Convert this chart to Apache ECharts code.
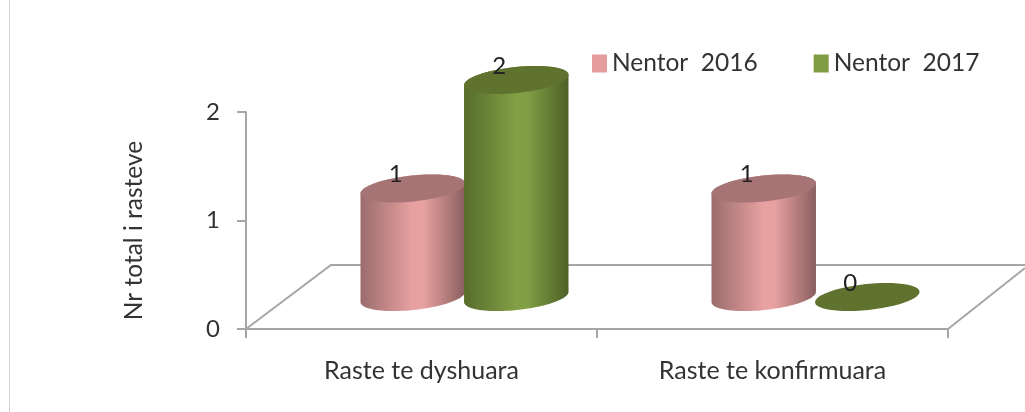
<!DOCTYPE html>
<html>
<head>
<meta charset="utf-8">
<style>
  html, body { margin: 0; padding: 0; background: #fff; }
  #chart { width: 1025px; height: 412px; }
</style>
<script src="https://cdn.jsdelivr.net/npm/echarts@6/dist/echarts.min.js"></script>
</head>
<body>
<div id="chart"></div>
<script>
const categories = ['Raste te dyshuara', 'Raste te konfirmuara'];
const yTicks = [0, 1, 2];
const nentor2016 = [1, 1];
const nentor2017 = [2, 0];
const seriesNames = ['Nentor  2016', 'Nentor  2017'];

const FONT = 'Lato';
const TILT = 6 * Math.PI / 180;
const RX = 52.5;
const RY = 13;
const DEPTH_X = 43;
const DEPTH_Y = 32;

// point on the tilted ellipse, t in radians
function ellipsePoint(cx, cy, t) {
    const px = RX * Math.cos(t);
    const py = RY * Math.sin(t);
    return [
        cx + px * Math.cos(TILT) + py * Math.sin(TILT),
        cy - px * Math.sin(TILT) + py * Math.cos(TILT)
    ];
}

function ellipsePoints(cx, cy, from, to) {
    const pts = [];
    for (let i = 0; i <= 48; i++) {
        pts.push(ellipsePoint(cx, cy, from + (to - from) * i / 48));
    }
    return pts;
}

function cylinderItem(colors, side) {
    return function (params, api) {
        const value = api.value(1);
        const base = api.coord([api.value(0), 0]);
        const top = api.coord([api.value(0), value]);
        const band = api.size([1, 0])[0];
        const cx = base[0] + DEPTH_X + side * band * 0.1475;
        const cyBase = base[1] - DEPTH_Y;
        const cyTop = top[1] - DEPTH_Y;
        // parameter where the ellipse reaches its right side
        const tEdge = Math.atan2(RY * Math.sin(TILT), RX * Math.cos(TILT));
        const children = [];
        if (value > 0) {
            const outline = ellipsePoints(cx, cyBase, tEdge, tEdge + Math.PI)
                .concat(ellipsePoints(cx, cyTop, tEdge + Math.PI, tEdge + 2 * Math.PI));
            children.push({
                type: 'polygon',
                shape: { points: outline },
                style: {
                    fill: new echarts.graphic.LinearGradient(0, 0, 1, 0, [
                        { offset: 0, color: colors.left },
                        { offset: 0.5, color: colors.mid },
                        { offset: 0.6, color: colors.mid },
                        { offset: 1, color: colors.right }
                    ])
                }
            });
        }
        children.push({
            type: 'polygon',
            shape: { points: ellipsePoints(cx, cyTop, 0, 2 * Math.PI) },
            style: { fill: colors.top }
        });
        children.push({
            type: 'text',
            style: {
                text: String(value),
                x: cx - 17,
                y: cyTop - 14,
                align: 'center',
                verticalAlign: 'middle',
                font: '24px ' + FONT,
                fill: '#222'
            }
        });
        return { type: 'group', children: children };
    };
}

// floor of the 3D box, built from the plot area
function floorItem(params) {
    const c = params.coordSys;
    const bottom = c.y + c.height;
    return {
        type: 'polyline',
        shape: {
            points: [[c.x, bottom], [c.x + 85, bottom - 64], [1025, bottom - 64]]
        },
        style: { stroke: '#a6a6a6', lineWidth: 2, fill: null },
        silent: true
    };
}

function floorEdgeItem(params) {
    const c = params.coordSys;
    const bottom = c.y + c.height;
    return {
        type: 'line',
        shape: { x1: c.x + c.width, y1: bottom, x2: 1025, y2: bottom - 61 },
        style: { stroke: '#a6a6a6', lineWidth: 2 },
        silent: true
    };
}

const chart = echarts.init(document.getElementById('chart'));

chart.setOption({
    animation: false,
    backgroundColor: '#fff',
    textStyle: { fontFamily: FONT },
    graphic: [{
        type: 'line',
        shape: { x1: 9.5, y1: 0, x2: 9.5, y2: 412 },
        style: { stroke: '#d0d0d0', lineWidth: 1 }
    }],
    legend: {
        data: seriesNames,
        left: 587,
        top: 46,
        icon: 'rect',
        itemWidth: 15,
        itemHeight: 18,
        itemGap: 56,
        textStyle: { fontFamily: FONT, fontSize: 24.5, color: '#333' },
        selectedMode: false
    },
    grid: { left: 246, right: 77, top: 112, bottom: 83 },
    xAxis: {
        type: 'category',
        data: categories,
        axisLine: { lineStyle: { color: '#a6a6a6', width: 2 } },
        axisTick: { show: true, length: 9, lineStyle: { color: '#a6a6a6', width: 2 } },
        axisLabel: { fontFamily: FONT, fontSize: 25, color: '#333', margin: 29 }
    },
    yAxis: {
        type: 'value',
        min: yTicks[0],
        max: yTicks[yTicks.length - 1],
        interval: 1,
        name: 'Nr total i rasteve',
        nameLocation: 'middle',
        nameRotate: 90,
        nameGap: 99,
        nameTextStyle: { fontFamily: FONT, fontSize: 24.5, color: '#333', padding: [0, 20, 0, 0] },
        axisLine: { show: true, lineStyle: { color: '#a6a6a6', width: 2 } },
        axisTick: { show: true, length: 9, lineStyle: { color: '#a6a6a6', width: 2 } },
        axisLabel: { fontFamily: FONT, fontSize: 24, color: '#333', margin: 26 },
        splitLine: { show: false }
    },
    series: [
        {
            type: 'custom',
            name: 'floor',
            coordinateSystem: 'cartesian2d',
            clip: false,
            silent: true,
            data: [[0, 0]],
            renderItem: floorItem,
            z: 1
        },
        {
            type: 'custom',
            name: 'floorEdge',
            coordinateSystem: 'cartesian2d',
            clip: false,
            silent: true,
            data: [[0, 0]],
            renderItem: floorEdgeItem,
            z: 1
        },
        {
            type: 'custom',
            name: seriesNames[0],
            coordinateSystem: 'cartesian2d',
            clip: false,
            itemStyle: { color: '#e59c9c' },
            data: nentor2016.map((v, i) => [i, v]),
            encode: { x: 0, y: 1 },
            renderItem: cylinderItem({ left: '#9a6c6c', mid: '#e8a1a1', right: '#8a5f5f', top: '#a67474' }, -1),
            z: 2
        },
        {
            type: 'custom',
            name: seriesNames[1],
            coordinateSystem: 'cartesian2d',
            clip: false,
            itemStyle: { color: '#7f9c42' },
            data: nentor2017.map((v, i) => [i, v]),
            encode: { x: 0, y: 1 },
            renderItem: cylinderItem({ left: '#566d2b', mid: '#829f45', right: '#4c6126', top: '#5f722e' }, 1),
            z: 3
        }
    ]
});
</script>
</body>
</html>
